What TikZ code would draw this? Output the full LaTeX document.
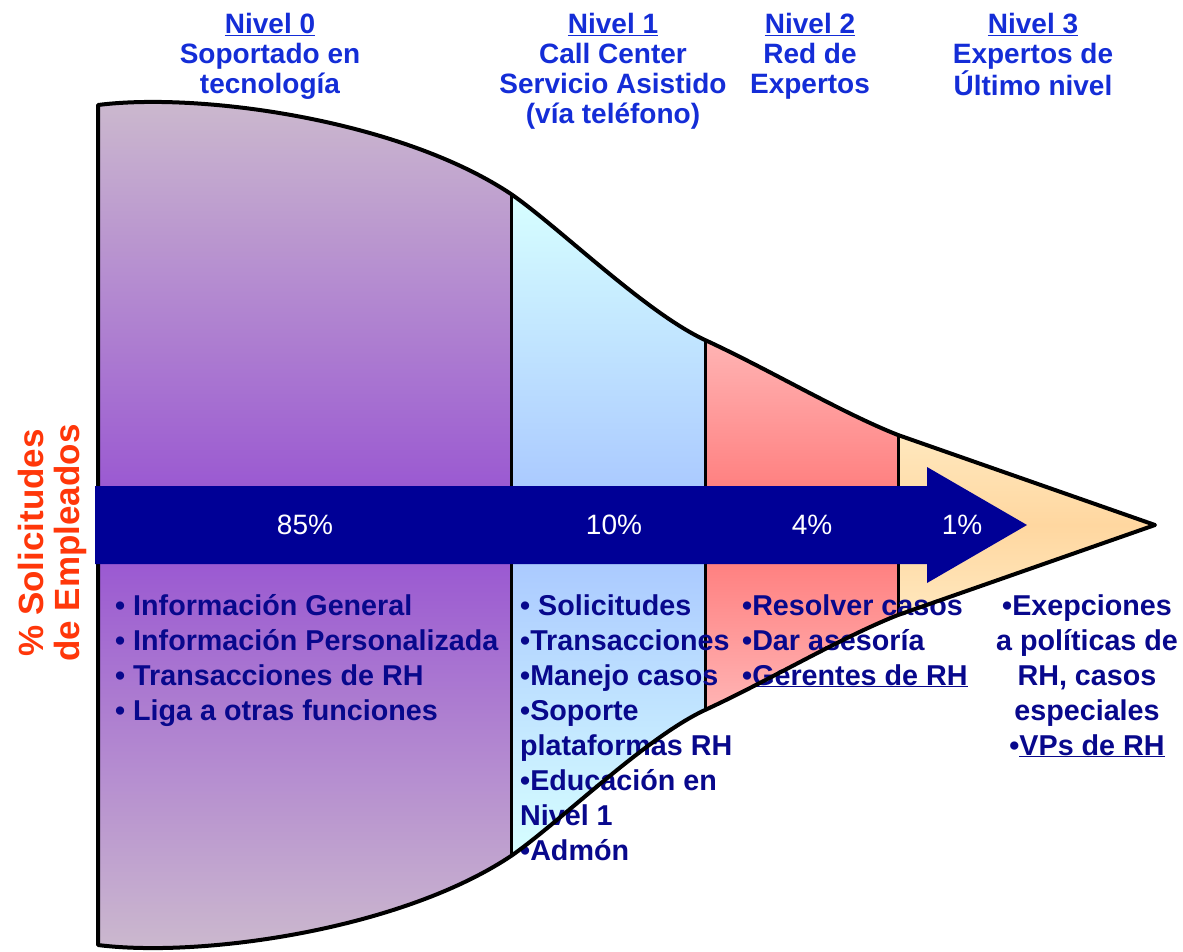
\documentclass[tikz,border=0pt]{standalone}
\usepackage{fontspec}
\setmainfont{Liberation Sans}
\definecolor{headblue}{RGB}{20,45,215}
\definecolor{textnavy}{RGB}{8,8,140}
\definecolor{arrowblue}{RGB}{0,0,150}
\definecolor{labelred}{RGB}{255,55,10}
\definecolor{lvlzerotop}{RGB}{204,186,206}
\definecolor{lvlzeromid}{RGB}{150,80,210}
\definecolor{lvlonetop}{RGB}{215,255,255}
\definecolor{lvlonemid}{RGB}{165,195,255}
\definecolor{lvltwotop}{RGB}{255,180,180}
\definecolor{lvltwomid}{RGB}{255,115,115}
\definecolor{lvlthreetop}{RGB}{255,232,190}
\definecolor{lvlthreemid}{RGB}{255,215,160}
\begin{document}
\begin{tikzpicture}[x=1pt,y=-1pt,
  head/.style={anchor=north,align=center,inner sep=0pt,text=headblue,
    font=\fontsize{28}{30}\selectfont\bfseries},
  items/.style={anchor=north west,align=left,inner sep=0pt,text=textnavy,
    font=\fontsize{28.7}{35}\selectfont\bfseries},
  pct/.style={text=white,font=\fontsize{28}{30}\selectfont}]
\useasboundingbox (0,0) rectangle (1183,951);
\def\funnel{(98,105) .. controls (200,92) and (400,120) .. (511,194)
  .. controls (560,228) and (645,312) .. (705,340)
  .. controls (770,370) and (840,412) .. (898,435) -- (1155,525)
  -- (898,615) .. controls (840,638) and (770,680) .. (705,710)
  .. controls (645,738) and (560,822) .. (511,856)
  .. controls (400,930) and (200,958) .. (98,945) -- cycle}

\coordinate (d1t) at (511,194); \coordinate (d1b) at (511,856);
\coordinate (d2t) at (705,340); \coordinate (d2b) at (705,710);
\coordinate (d3t) at (898,435); \coordinate (d3b) at (898,615);

\begin{scope} % one shade per level
\clip \funnel;
\shade[top color=lvlzerotop,bottom color=lvlzerotop,middle color=lvlzeromid] (90,95) rectangle (511,955);
\shade[top color=lvlonetop,bottom color=lvlonetop,middle color=lvlonemid] (511,194) rectangle (705,856);
\shade[top color=lvltwotop,bottom color=lvltwotop,middle color=lvltwomid] (705,340) rectangle (898,710);
\shade[top color=lvlthreetop,bottom color=lvlthreetop,middle color=lvlthreemid] (898,435) rectangle (1160,615);
\end{scope}

\foreach \d in {1,2,3}
  \draw[line width=3pt] (d\d t) -- (d\d b);

\node[head] (h0) at (270,13) {\underline{Nivel 0}\\Soportado en\\tecnología};
\node[head] (h1) at (613,13) {\underline{Nivel 1}\\Call Center\\Servicio Asistido\\(vía teléfono)};
\node[head] (h2) at (810,13) {\underline{Nivel 2}\\Red de\\Expertos};
\node[head] (h3) at (1033,13) {\underline{Nivel 3}\\Expertos de\\Último nivel};

\node[items] (l0) at (115,594) {• Información General\\• Información Personalizada\\• Transacciones de RH\\• Liga a otras funciones};
\node[items] (l1) at (520,594) {• Solicitudes\\•Transacciones\\•Manejo casos\\•Soporte\\plataformas RH\\•Educación en\\Nivel 1\\•Admón};
\node[items] (l2) at (742,594) {•Resolver casos\\•Dar asesoría\\•\underline{Gerentes de RH}};
\node[items,anchor=north,align=center] (l3) at (1087,594) {•Exepciones\\a políticas de\\RH, casos\\especiales\\•\underline{VPs de RH}};

\node[rotate=90,align=center,text=labelred,font=\fontsize{35}{36}\selectfont\bfseries]
  (ylab) at (52,543) {\% Solicitudes\\de Empleados};

\draw[line width=4pt,line join=round] \funnel;

% arrow across the levels
\fill[arrowblue] (95,486) -- (927,486) -- (927,467) -- (1027,525)
  -- (927,583) -- (927,564) -- (95,564) -- cycle;

\node[pct] (p0) at (305,525) {85\%};
\node[pct] (p1) at (614,525) {10\%};
\node[pct] (p2) at (812,525) {4\%};
\node[pct] (p3) at (962,525) {1\%};
\end{tikzpicture}
\end{document}
